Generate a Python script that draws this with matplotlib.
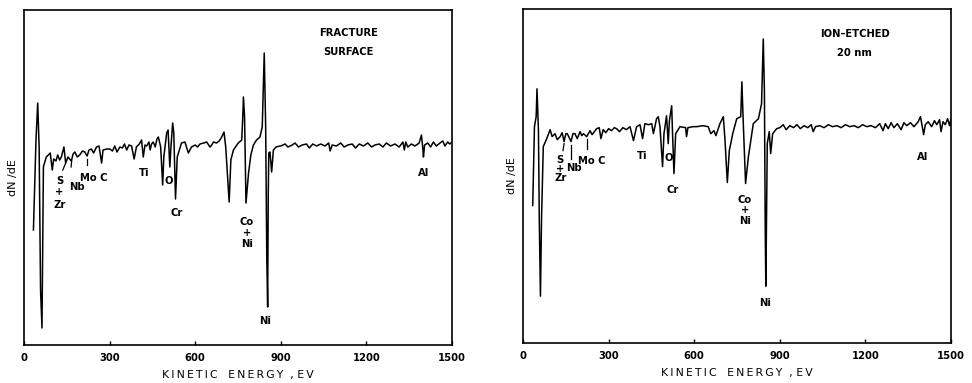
import matplotlib
matplotlib.use("Agg")
import matplotlib.pyplot as plt

# ---------------- data (kinetic energy eV, dN/dE arbitrary units) ----------------
fracture_energy = [33, 42, 48, 53, 58, 63, 68, 78, 92, 99, 104, 112, 118, 125, 131, 140, 146, 154, 160,
                   166, 172, 178, 187, 195, 205, 213, 221, 228, 236, 244, 254, 263, 272, 277, 290,
                   301, 310, 318, 326, 336, 345, 352, 360, 368, 377, 386, 394, 404, 412, 418, 424,
                   430, 438, 442, 447, 453, 460, 466, 471, 479, 486, 490, 500, 505, 511, 515, 521,
                   525, 531, 537, 552, 564, 576, 587, 600, 608, 617, 630, 640, 652, 658, 664, 675,
                   684, 693, 701, 707, 713, 719, 725, 734, 751, 763, 767, 769, 773, 778, 787, 795,
                   804, 815, 827, 835, 842, 847, 851, 854, 856, 858, 862, 868, 874, 883, 897,
                   900, 915, 925, 940, 950, 962, 975, 990, 1000, 1012, 1025, 1040, 1055, 1068, 1073,
                   1080, 1095, 1110, 1122, 1135, 1150, 1162, 1175, 1190, 1205, 1218, 1230, 1245,
                   1258, 1270, 1285, 1300, 1315, 1328, 1333, 1338, 1345, 1358, 1370, 1385, 1393,
                   1398, 1400, 1404, 1415, 1425, 1435, 1445, 1458, 1468, 1475, 1485, 1492, 1500]
fracture_signal = [115, 205, 242, 198, 55, 17, 178, 188, 192, 175, 186, 184, 190, 185, 188, 198, 182, 188,
                   186, 184, 191, 193, 188, 190, 194, 193, 189, 195, 196, 192, 198, 199, 182, 195, 196,
                   196, 194, 199, 193, 198, 197, 201, 195, 200, 199, 186, 198, 201, 205, 188, 200,
                   199, 203, 195, 201, 203, 198, 206, 208, 198, 160, 188, 212, 215, 178, 198, 222,
                   212, 146, 188, 202, 203, 192, 198, 200, 198, 201, 202, 203, 198, 200, 203, 202,
                   204, 208, 213, 198, 170, 143, 185, 195, 202, 205, 230, 248, 228, 142, 172, 190,
                   200, 205, 208, 218, 292, 218, 85, 38, 150, 192, 193, 173, 195, 198, 199,
                   199, 201, 198, 200, 202, 198, 200, 201, 197, 201, 199, 201, 199, 202, 194,
                   200, 199, 202, 198, 200, 201, 197, 201, 199, 202, 198, 200, 201,
                   198, 202, 199, 201, 198, 203, 195, 203, 198, 201, 199, 202, 210,
                   196, 188, 200, 202, 198, 203, 199, 202, 204, 199, 203, 201, 203]

etched_energy = [34, 40, 46, 49, 54, 57, 61, 65, 71, 83, 95, 102, 112, 120, 130, 137, 144, 150, 155,
                 162, 168, 175, 182, 190, 200, 206, 212, 223, 235, 242, 250, 258, 267, 273, 281,
                 290, 300, 310, 320, 328, 338, 350, 362, 375, 387, 398, 410, 419, 427, 440, 451,
                 457, 468, 474, 480, 489, 494, 503, 509, 513, 521, 524, 529, 535, 550, 570, 573,
                 578, 595, 609, 630, 649, 658, 669, 676, 690, 702, 708, 716, 723, 735, 749, 763,
                 767, 772, 780, 790, 807, 825, 836, 842, 846, 849, 851, 856, 863, 868, 875, 889,
                 900, 912, 922, 935, 948, 960, 972, 985, 998, 1010, 1017, 1025, 1040, 1055, 1070,
                 1085, 1100, 1115, 1130, 1145, 1160, 1175, 1190, 1205, 1220, 1235, 1250, 1262,
                 1270, 1280, 1290, 1300, 1312, 1325, 1335, 1345, 1358, 1370, 1385, 1393, 1400,
                 1404, 1410, 1420, 1432, 1442, 1450, 1460, 1465, 1472, 1480, 1488, 1495, 1500]
etched_signal = [138, 217, 227, 255, 213, 123, 47, 127, 197, 205, 214, 207, 210, 204, 207, 211, 202, 210,
                 210, 206, 202, 210, 210, 205, 212, 208, 210, 207, 213, 209, 212, 215, 216, 205, 214,
                 211, 215, 213, 216, 215, 212, 216, 214, 217, 203, 217, 219, 205, 220, 219, 220,
                 210, 225, 227, 217, 177, 210, 228, 200, 223, 238, 210, 170, 210, 217, 216, 207,
                 216, 217, 217, 218, 217, 210, 213, 208, 220, 227, 203, 161, 193, 210, 225, 227,
                 262, 220, 160, 187, 220, 225, 240, 305, 253, 110, 57, 200, 212, 190, 210, 215,
                 216, 219, 214, 218, 216, 219, 215, 218, 216, 219, 212, 217, 218, 216, 219,
                 217, 218, 216, 219, 217, 218, 216, 219, 217, 218, 216, 220, 213,
                 220, 215, 221, 216, 220, 214, 221, 218, 221, 217, 222, 227, 216,
                 209, 219, 222, 217, 223, 219, 224, 212, 222, 219, 225, 218, 225]

x_ticks = [0, 300, 600, 900, 1200, 1500]
x_tick_labels = ["0", "300", "600", "900", "1200", "1500"]

# ---------------- figure ----------------
fig = plt.figure(figsize=(9.72, 3.83), dpi=100)
axL = fig.add_axes([0.0247, 0.0992, 0.4403, 0.8747])
axR = fig.add_axes([0.5381, 0.1044, 0.4403, 0.8720])

FS = 7.2
xlabel = "\u2009".join("KINETIC") + "   " + "\u2009".join("ENERGY") + "  , " + "\u2009".join("EV")
for ax, e, s in [(axL, fracture_energy, fracture_signal), (axR, etched_energy, etched_signal)]:
    ax.plot(e, s, color="black", lw=1.1)
    ax.set_xlim(0, 1500)
    ax.set_ylim(0, 335)
    ax.set_yticks([])
    ax.set_xticks(x_ticks)
    ax.set_xticklabels(x_tick_labels, fontsize=FS, fontweight="bold")
    ax.tick_params(axis="x", direction="in", length=3, width=1, pad=6)
    for sp in ax.spines.values():
        sp.set_linewidth(1.2)
    ax.set_xlabel(xlabel, fontsize=7.8, labelpad=5)
    ax.set_ylabel("dN /dE", fontsize=8, labelpad=4)

tkw = dict(fontsize=7.2, ha="center", va="center", fontweight="semibold")

# left panel annotations
axL.text(1136, 312, "FRACTURE", **tkw)
axL.text(1136, 293, "SURFACE", **tkw)
axL.text(124, 164, "S", **tkw)
axL.text(124, 153, "+", **tkw)
axL.text(126, 140, "Zr", **tkw)
axL.text(186, 158, "Nb", **tkw)
axL.text(245, 167, "Mo C", **tkw)
axL.text(420, 172, "Ti", **tkw)
axL.text(509, 164, "O", **tkw)
axL.text(535, 132, "Cr", **tkw)
axL.text(781, 123, "Co", **tkw)
axL.text(781, 112, "+", **tkw)
axL.text(781, 101, "Ni", **tkw)
axL.text(845, 24, "Ni", **tkw)
axL.text(1402, 172, "Al", **tkw)
axL.plot([136, 146], [175, 182], color="black", lw=0.9)
axL.plot([165, 167], [178, 184], color="black", lw=0.9)
axL.plot([222, 222], [180, 186], color="black", lw=0.9)

# right panel annotations
axR.text(1164, 310, "ION\u2013ETCHED", **tkw)
axR.text(1160, 291, "20 nm", **tkw)
axR.text(130, 184, "S", **tkw)
axR.text(130, 175, "+", **tkw)
axR.text(132, 166, "Zr", **tkw)
axR.text(180, 176, "Nb", **tkw)
axR.text(240, 183, "Mo C", **tkw)
axR.text(417, 188, "Ti", **tkw)
axR.text(512, 186, "O", **tkw)
axR.text(526, 153, "Cr", **tkw)
axR.text(778, 143, "Co", **tkw)
axR.text(778, 133, "+", **tkw)
axR.text(778, 122, "Ni", **tkw)
axR.text(848, 40, "Ni", **tkw)
axR.text(1402, 187, "Al", **tkw)
axR.plot([140, 144], [193, 200], color="black", lw=0.9)
axR.plot([168, 168], [185, 199], color="black", lw=0.9)
axR.plot([223, 223], [195, 205], color="black", lw=0.9)

fig.savefig("out.png", dpi=100)
